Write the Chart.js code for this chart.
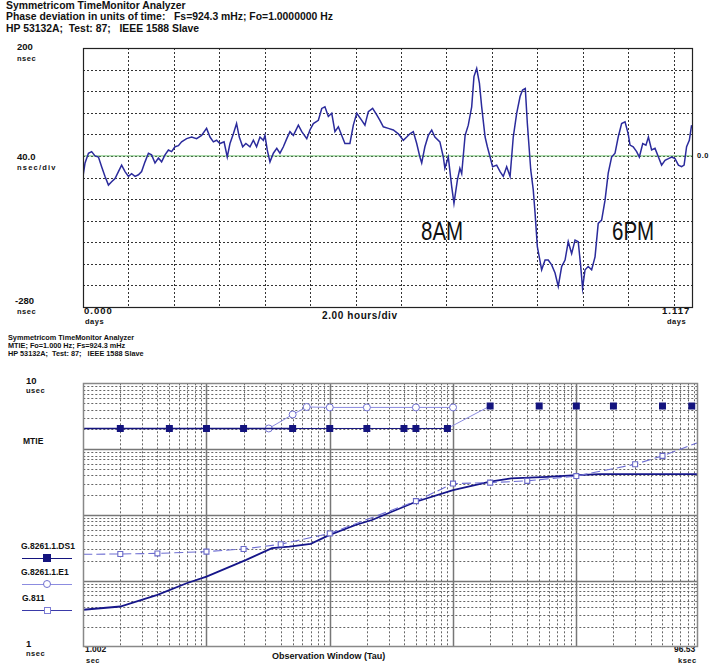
<!DOCTYPE html>
<html>
<head>
<meta charset="utf-8">
<script src="https://cdn.jsdelivr.net/npm/chart.js@4.4.1/dist/chart.umd.min.js"></script>
<style>
  body { margin: 0; background: #fff; width: 714px; height: 666px; position: relative; overflow: hidden;
         font-family: "Liberation Sans", Arial, sans-serif; color: #111; }
  .t { position: absolute; white-space: nowrap; font-weight: bold; }
  .h1 { font-size: 10.4px; line-height: 12px; }
  .h2 { font-size: 7.3px; line-height: 8px; }
  .ax { font-size: 9.5px; line-height: 10px; }
  .un { font-size: 7.5px; line-height: 8px; letter-spacing: 0.5px; }
  .lb { font-size: 8.5px; line-height: 9px; }
  .big { font-size: 25px; line-height: 25px; font-weight: normal; transform: scaleX(0.82); transform-origin: left top; }
  canvas { position: absolute; }
  .lg { position: absolute; height: 0; }
  .mk { position: absolute; box-sizing: border-box; }
</style>
</head>
<body>

<!-- top chart header -->
<div class="t h1" style="left:6px;top:0px">Symmetricom TimeMonitor Analyzer</div>
<div class="t h1" style="left:6px;top:11px">Phase deviation in units of time:&nbsp;&nbsp; Fs=924.3 mHz; Fo=1.0000000 Hz</div>
<div class="t h1" style="left:6px;top:23px">HP 53132A;&nbsp; Test: 87;&nbsp;&nbsp; IEEE 1588 Slave</div>

<div class="t ax" style="left:17px;top:42px">200</div>
<div class="t un" style="left:17px;top:55px">nsec</div>
<div class="t ax" style="left:17px;top:152px">40.0</div>
<div class="t un" style="left:17px;top:164px;letter-spacing:1.2px">nsec/div</div>
<div class="t ax" style="left:15px;top:296px">-280</div>
<div class="t un" style="left:17px;top:308px">nsec</div>
<div class="t ax" style="left:84px;top:306px;letter-spacing:1px">0.000</div>
<div class="t un" style="left:85px;top:318px">days</div>
<div class="t ax" style="left:322px;top:311px;font-size:10px;letter-spacing:0.6px">2.00 hours/div</div>
<div class="t ax" style="left:662px;top:306px;letter-spacing:1px">1.117</div>
<div class="t un" style="left:667px;top:318px">days</div>
<div class="t un" style="left:697px;top:152px">0.0</div>
<div class="t big" style="left:421px;top:219px">8AM</div>
<div class="t big" style="left:612px;top:219px">6PM</div>

<canvas id="phase" width="619" height="269" style="left:78px;top:43px"></canvas>

<!-- bottom chart header -->
<div class="t h2" style="left:8px;top:334px">Symmetricom TimeMonitor Analyzer</div>
<div class="t h2" style="left:8px;top:342px">MTIE; Fo=1.000 Hz; Fs=924.3 mHz</div>
<div class="t h2" style="left:8px;top:350px">HP 53132A;&nbsp; Test: 87;&nbsp;&nbsp; IEEE 1588 Slave</div>

<div class="t ax" style="left:26px;top:376px">10</div>
<div class="t un" style="left:26px;top:387px">usec</div>
<div class="t lb" style="left:23px;top:437px">MTIE</div>
<div class="t lb" style="left:21px;top:542px">G.8261.1.DS1</div>
<div class="t lb" style="left:21px;top:568px">G.8261.1.E1</div>
<div class="t lb" style="left:22px;top:594px">G.811</div>
<div class="t ax" style="left:26px;top:639px">1</div>
<div class="t un" style="left:26px;top:650px">nsec</div>
<div class="t lb" style="left:85px;top:645px">1.002</div>
<div class="t un" style="left:86px;top:657px">sec</div>
<div class="t lb" style="left:272px;top:652px;font-size:9px">Observation Window (Tau)</div>
<div class="t lb" style="left:674px;top:645px">96.53</div>
<div class="t un" style="left:678px;top:657px">ksec</div>

<!-- legend glyphs -->
<div class="lg" style="left:22px;top:558px;width:50px;border-top:1.5px solid #14147e"></div>
<div class="mk" style="left:43px;top:554px;width:8px;height:8px;background:#14147e"></div>
<div class="lg" style="left:22px;top:584px;width:50px;border-top:1px solid #8c8ce0"></div>
<div class="mk" style="left:43px;top:580px;width:8px;height:8px;border:1px solid #7070d0;border-radius:50%;background:#fff"></div>
<div class="lg" style="left:22px;top:610px;width:50px;border-top:1.5px solid #3a3aa8"></div>
<div class="mk" style="left:44px;top:607px;width:7px;height:7px;border:1px solid #7c7cd4;background:#fff"></div>

<canvas id="mtie" width="625" height="274" style="left:78px;top:378px"></canvas>

<script>
// ---- phase deviation (top) ----
var phaseHours = [0.00,0.09,0.24,0.38,0.53,0.68,0.82,0.97,1.12,1.26, 1.41,1.56,1.70,1.85,2.00,2.14,2.29,2.44,2.58,2.73,
  2.88,3.02,3.17,3.32,3.46,3.61,3.76,3.90,4.05,4.20, 4.34,4.56,4.78,5.00,5.22,5.44,5.59,5.74,5.88,6.03,
  6.21,6.35,6.47,6.62,6.76,6.88,7.03,7.17,7.35,7.50, 7.64,7.79,7.94,8.01,8.11,8.23,8.38,8.53,8.67,8.82,
  8.97,9.11,9.26,9.48,9.63,9.85,9.99,10.14,10.36,10.51, 10.65,10.80,10.95,11.09,11.24,11.39,11.53,11.75,11.90,12.05,
  12.27,12.41,12.56,12.75,12.93,13.07,13.22,13.44,13.66,13.88,
  14.10,14.25,14.39,14.54,14.69,14.83,14.91,15.05,15.20,15.35, 15.49,15.71,15.86,15.93,16.08,16.23,16.33,16.48,16.59,16.67,
  16.82,16.96,17.11,17.21,17.33,17.45,17.55,17.70,17.80,17.92, 18.03,18.21,18.36,18.50,18.65,18.80,18.94,19.09,19.24,19.35,
  19.47,19.56,19.71,19.82,19.90,20.00,20.19,20.34,20.48,20.63, 20.78,20.92,21.07,21.22,21.36,21.51,21.66,21.80,21.91,21.99,
  22.10,22.24,22.39,22.54,22.68,22.83,22.98,23.12,23.27,23.42, 23.56,23.71,23.86,24.00,24.08,24.22,24.37,24.49,24.64,24.78,
  24.89,25.03,25.18,25.33,25.47,25.62,25.77,25.91,26.06,26.21, 26.35,26.46,26.57,26.69,26.79];
var phaseNs = [-38,-13,5,8,0,-2,-20,-38,-54,-48, -42,-29,-17,-29,-38,-33,-38,-35,-29,-11,
  5,2,-13,-4,-11,2,11,8,17,19, 26,32,35,32,38,51,35,26,29,23,
  26,-2,23,41,60,35,17,23,17,29, 17,35,29,38,11,-11,5,14,5,17,
  32,45,38,57,45,32,48,60,66,88, 91,73,79,45,54,38,23,23,57,79,
  66,57,82,88,76,66,54,51,48,41,
  29,35,41,45,23,-2,-13,17,38,48, 35,26,-2,-23,-2,-57,-88,-45,-23,-33,
  38,57,91,147,162,135,91,35,17,-2, -20,-17,-29,-38,-20,-38,35,79,110,122,
  125,60,-26,-63,-106,-168,-211,-193,-193,-202, -217,-242,-205,-193,-159,-181,-156,-159,-205,-245,
  -211,-205,-211,-187,-125,-119,-82,-32,-2,5, 35,60,63,41,20,17,8,-2,23,20,
  35,11,14,-2,-17,-8,-5,-2,-5,-17, -20,-17,17,29,57];
var refHours = [0, 26.808];
var refNs = [0, 0];

// ---- MTIE (bottom), tau in sec, MTIE in nsec ----
var tauMeas = [1.002,2,4,6.9,10,21,34,47,70,100,162,220,500,1000,2000,2960,5850,10000,15700,96530];
var mtieMeas = [3.64,4.08,6.14,9.2,11.6,20.8,31.3,33.1,36.4,49.8,70.5,84,159,239,320,360,380,403,418,418];

var tauG811 = [1.002,2,4,10,20,40,100,500,1000,2000,4000,10000,30000,50000,96530];
var maskG811 = [25.3,25.6,26.1,27.8,30.5,36,52.5,162.5,300,310,330,390,590,790,1255];

var tauE1 = [1.002,32,50,65,100,200,500,1000];
var maskE1 = [2060,2060,3360,4370,4300,4300,4300,4300];

var tauDs1 = [1.002,2,5,10,20,50,100,200,400,500,900,2000,5000,10000,20000,50000,86400];
var maskDs1 = [2060,2060,2060,2060,2060,2060,2060,2060,2060,2060,2060,4530,4530,4530,4530,4530,4530];

function pts(xs, ys) {
  return xs.map(function (x, i) { return { x: x, y: ys[i] }; });
}
// no marker on the first (and optionally last) point
function radii(n, r, skipLast) {
  var a = [];
  for (var i = 0; i < n; i++) a.push(i === 0 || (skipLast && i === n - 1) ? 0 : r);
  return a;
}

// paper style grid + frame, positioned through the chart's own scales
Chart.register({
  id: 'paperGrid',
  beforeDatasetsDraw: function (chart, args, o) {
    if (!o.sets) return;
    var ctx = chart.ctx, a = chart.chartArea, sx = chart.scales.x, sy = chart.scales.y;
    ctx.save();
    o.sets.forEach(function (g) {
      ctx.strokeStyle = g.color;
      ctx.lineWidth = g.width;
      ctx.setLineDash(g.dash || []);
      (g.x || []).forEach(function (v) {
        var p = Math.round(sx.getPixelForValue(v)) + 0.5;
        ctx.beginPath(); ctx.moveTo(p, a.top); ctx.lineTo(p, a.bottom); ctx.stroke();
      });
      (g.y || []).forEach(function (v) {
        var p = Math.round(sy.getPixelForValue(v)) + 0.5;
        ctx.beginPath(); ctx.moveTo(a.left, p); ctx.lineTo(a.right, p); ctx.stroke();
      });
    });
    ctx.restore();
  },
  afterDatasetsDraw: function (chart, args, o) {
    if (!o.frame) return;
    var ctx = chart.ctx, a = chart.chartArea;
    ctx.save();
    ctx.setLineDash([]);
    ctx.strokeStyle = o.frame;
    ctx.lineWidth = o.frameWidth || 1;
    ctx.strokeRect(Math.round(a.left) + 0.5, Math.round(a.top) + 0.5,
      Math.round(a.right - a.left), Math.round(a.bottom - a.top));
    ctx.restore();
  }
});

//===========================================
//       Phase deviation chart
//===========================================
var hourLines = [], nsLines = [];
for (var h = 2; h <= 26; h += 2) hourLines.push(h);
for (var v = -240; v <= 160; v += 40) nsLines.push(v);

new Chart(document.getElementById('phase'), {
  type: 'scatter',
  data: {
    datasets: [
      { data: pts(phaseHours, phaseNs), showLine: true, borderColor: '#2b2b9c', borderWidth: 1.5,
        pointRadius: 0, order: 1 },
      { data: pts(refHours, refNs), showLine: true, borderColor: '#70c070', borderWidth: 1,
        pointRadius: 0, order: 2 }
    ]
  },
  options: {
    responsive: false, animation: false, devicePixelRatio: 1,
    layout: { padding: 5 },
    plugins: {
      legend: { display: false }, tooltip: { enabled: false },
      paperGrid: {
        sets: [{ x: hourLines, y: nsLines, color: '#333', width: 1, dash: [2, 2] }],
        frame: '#222', frameWidth: 1.2
      }
    },
    scales: {
      x: { type: 'linear', display: false, min: 0, max: 26.808 },
      y: { type: 'linear', display: false, min: -280, max: 200 }
    }
  }
});

//===========================================
//       MTIE chart
//===========================================
var tauMinor = [], tauMajor = [10, 100, 1000, 10000];
for (var d = 1; d <= 10000; d *= 10)
  for (var m = 2; m <= 9; m++) if (m * d < 96530) tauMinor.push(m * d);
var nsMinor = [], nsMajor = [10, 100, 1000];
for (var e = 1; e <= 1000; e *= 10)
  for (var k = 2; k <= 9; k++) nsMinor.push(k * e);

new Chart(document.getElementById('mtie'), {
  type: 'scatter',
  data: {
    datasets: [
      { label: 'G.8261.1.DS1', data: pts(tauDs1, maskDs1), showLine: true, borderColor: '#14147e', borderWidth: 1.3,
        pointStyle: 'rect', pointRadius: radii(tauDs1.length, 4), pointBackgroundColor: '#14147e',
        pointBorderColor: '#14147e', order: 1,
        // after the step only the markers are shown, the step itself is a thin light line
        segment: {
          borderColor: function (c) {
            if (c.p0DataIndex >= 11) return 'rgba(0,0,0,0)';
            if (c.p0DataIndex === 10) return '#8c8ce0';
            return undefined;
          },
          borderWidth: function (c) { return c.p0DataIndex >= 5 ? 1 : undefined; }
        } },
      { label: 'G.8261.1.E1', data: pts(tauE1, maskE1), showLine: true, borderColor: '#8c8ce0', borderWidth: 1,
        pointStyle: 'circle', pointRadius: radii(tauE1.length, 3.5), pointBackgroundColor: '#fff',
        pointBorderColor: '#7070d0', order: 2 },
      { label: 'G.811', data: pts(tauG811, maskG811), showLine: true, borderColor: '#6e6ed2', borderWidth: 1.1,
        borderDash: [9, 4], pointStyle: 'rect', pointRadius: radii(tauG811.length, 3.5, true),
        pointBackgroundColor: '#fff', pointBorderColor: '#6a6ac8', order: 3 },
      { label: 'MTIE', data: pts(tauMeas, mtieMeas), showLine: true, borderColor: '#16168a', borderWidth: 1.8,
        pointRadius: 0, order: 4 }
    ]
  },
  options: {
    responsive: false, animation: false, devicePixelRatio: 1,
    layout: { padding: 5 },
    plugins: {
      legend: { display: false }, tooltip: { enabled: false },
      paperGrid: {
        sets: [
          { x: tauMinor, y: nsMinor, color: '#666', width: 1, dash: [2, 2] },
          { x: tauMajor, y: nsMajor, color: '#777', width: 1.5 }
        ],
        frame: '#888', frameWidth: 1.5
      }
    },
    scales: {
      x: { type: 'logarithmic', display: false, min: 1.002, max: 96530 },
      y: { type: 'logarithmic', display: false, min: 1, max: 10000 }
    }
  }
});
</script>
</body>
</html>
